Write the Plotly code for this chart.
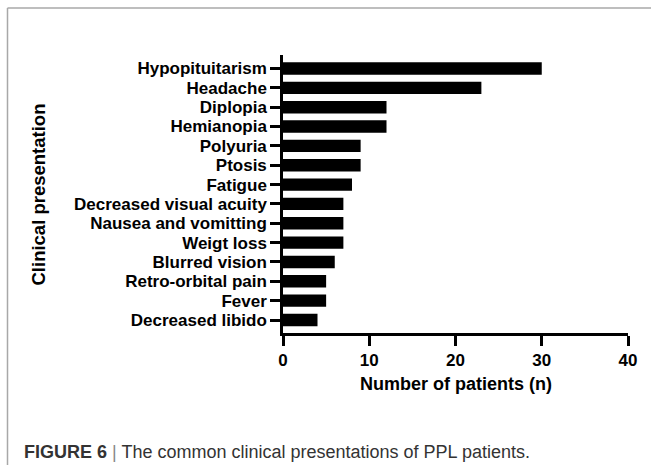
import plotly.graph_objects as go

categories = ["Hypopituitarism", "Headache", "Diplopia", "Hemianopia", "Polyuria", "Ptosis",
              "Fatigue", "Decreased visual acuity", "Nausea and vomitting", "Weigt loss",
              "Blurred vision", "Retro-orbital pain", "Fever", "Decreased libido"]
patients = [30, 23, 12, 12, 9, 9, 8, 7, 7, 7, 6, 5, 5, 4]
x_ticks = [0, 10, 20, 30, 40]

W, H = 651, 465
L, R, T, B = 283, 23, 55, 132
pw, ph = W - L - R, H - T - B

def px_x(x):
    return (x - L) / pw

def px_y(y):
    return (H - B - y) / ph

FONT = "Liberation Sans, Arial, Helvetica, sans-serif"

fig = go.Figure(go.Bar(
    x=patients, y=categories, orientation="h",
    marker=dict(color="black", line=dict(width=0)),
    width=0.64,
))

fig.update_layout(
    width=W, height=H,
    margin=dict(l=L, r=R, t=T, b=B, autoexpand=False),
    paper_bgcolor="white", plot_bgcolor="white",
    showlegend=False,
    font=dict(family=FONT, color="black"),
    xaxis=dict(range=[0, 40], tickmode="array", tickvals=x_ticks, showgrid=False, zeroline=False,
               showline=True, linecolor="black", linewidth=2.5,
               ticks="outside", ticklen=10, tickwidth=2.5, tickcolor="black",
               tickfont=dict(size=17, weight="bold", family=FONT, color="black")),
    yaxis=dict(type="category", categoryorder="array", categoryarray=categories,
               tickmode="array", tickvals=categories, ticktext=categories,
               range=[13.672, -0.698], showgrid=False, zeroline=False,
               showline=True, linecolor="black", linewidth=2.5,
               ticks="outside", ticklen=10, tickwidth=2.5, tickcolor="black",
               tickfont=dict(size=17, weight="bold", family=FONT, color="black")),
    shapes=[
        dict(type="line", xref="paper", yref="paper", x0=px_x(7.5), x1=px_x(W + 5),
             y0=px_y(8), y1=px_y(8), line=dict(color="#a8a8a8", width=1.5)),
        dict(type="line", xref="paper", yref="paper", x0=px_x(7.5), x1=px_x(7.5),
             y0=px_y(8), y1=px_y(H + 5), line=dict(color="#a8a8a8", width=1.5)),
    ],
    annotations=[
        dict(text="<b>Number of patients (n)</b>", xref="paper", yref="paper",
             x=0.5, y=px_y(384), xanchor="center", yanchor="middle", showarrow=False,
             font=dict(size=18, family=FONT, color="black")),
        dict(text="<b>Clinical presentation</b>", xref="paper", yref="paper",
             x=px_x(37.5), y=px_y(195), xanchor="center", yanchor="middle", showarrow=False,
             textangle=-90, font=dict(size=18.5, family=FONT, color="black")),
        dict(text="<b>FIGURE 6</b> <span style='color:#888'>|</span> The common clinical presentations of PPL patients.",
             xref="paper", yref="paper", x=px_x(22), y=px_y(452), xanchor="left", yanchor="middle",
             showarrow=False, font=dict(size=18, family=FONT, color="#333333")),
    ],
)

fig.write_html("out.html", config={"displayModeBar": False},
               post_script="document.body.style.margin='0';document.body.style.overflow='hidden';")
